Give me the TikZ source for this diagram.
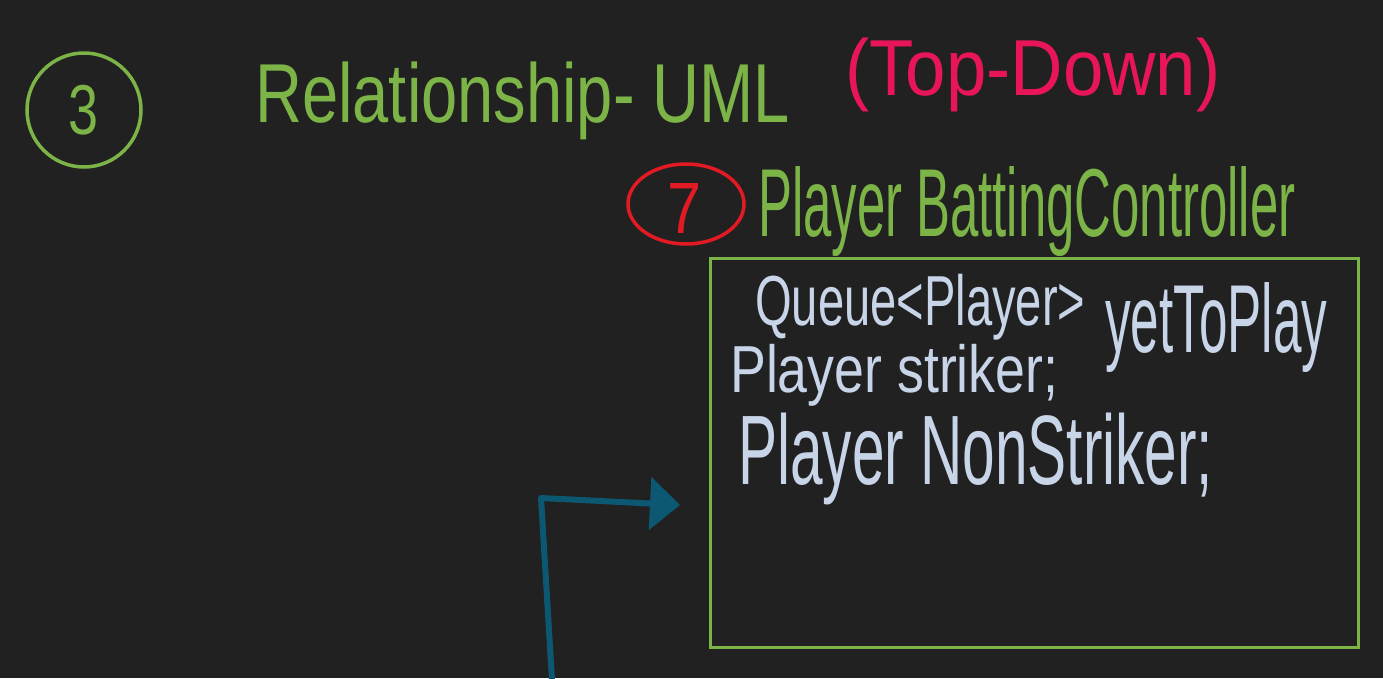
\documentclass[tikz,border=0pt]{standalone}
\usepackage{fontspec}
\usepackage{graphicx}
\setmainfont{Liberation Sans}
\usetikzlibrary{arrows.meta}
\definecolor{bg}{RGB}{33,33,33}
\definecolor{hgreen}{RGB}{124,180,72}
\definecolor{hpink}{RGB}{232,22,88}
\definecolor{hred}{RGB}{226,26,36}
\definecolor{hwhite}{RGB}{200,212,232}
\definecolor{hteal}{RGB}{12,88,114}
\newcommand{\fitbox}[3]{\resizebox*{#1pt}{#2pt}{#3}}
\begin{document}
\begin{tikzpicture}[x=1pt,y=-1pt,
  txt/.style={inner sep=0pt,anchor=north west},
  ring/.style={line width=3.5pt},
  classbox/.style={draw=hgreen,line width=3pt},
  link/.style={draw=hteal,line width=6pt,line cap=round,line join=round,-{Triangle[length=30pt,width=52pt]}}]
\fill[bg] (0,0) rectangle (1383,678);
\useasboundingbox (0,0) rectangle (1383,678);
% circled 3
\draw[ring,hgreen] (84,110) circle (57);
\node[inner sep=0pt,text=hgreen] (n3) at (84,110) {\fitbox{30}{50}{3}};
% title
\node[txt,text=hgreen] (title) at (255,62) {\fitbox{535}{78}{Relationship- UML}};
\node[txt,text=hpink] (topdown) at (845,38) {\fitbox{375}{74}{(Top-Down)}};
% circled 7
\draw[ring,hred] (686,204) ellipse (58 and 40);
\node[inner sep=0pt,text=hred] (n7) at (684,208) {\fitbox{34}{50}{7}};
\node[txt,text=hgreen] (cname) at (758,166) {\fitbox{537}{90}{Player BattingController}};
% class box
\node[classbox,minimum width=648pt,minimum height=389pt,anchor=north west,inner sep=0pt] (box) at (709,257) {};
\node[txt,text=hwhite] (f1a) at (755,274) {\fitbox{330}{66}{Queue<Player>}};
\node[txt,text=hwhite] (f1b) at (1105,282) {\fitbox{222}{90}{yetToPlay}};
\node[txt,text=hwhite] (f2) at (730,344) {\fitbox{328}{62}{Player striker;}};
\node[txt,text=hwhite] (f3) at (738,413) {\fitbox{475}{92}{Player NonStriker;}};
% arrow
\coordinate (a0) at (552,680);
\coordinate (a1) at (541,498);
\coordinate (a2) at (680,505);
\draw[link] (a0) -- (a1) -- (a2);
\end{tikzpicture}
\end{document}
